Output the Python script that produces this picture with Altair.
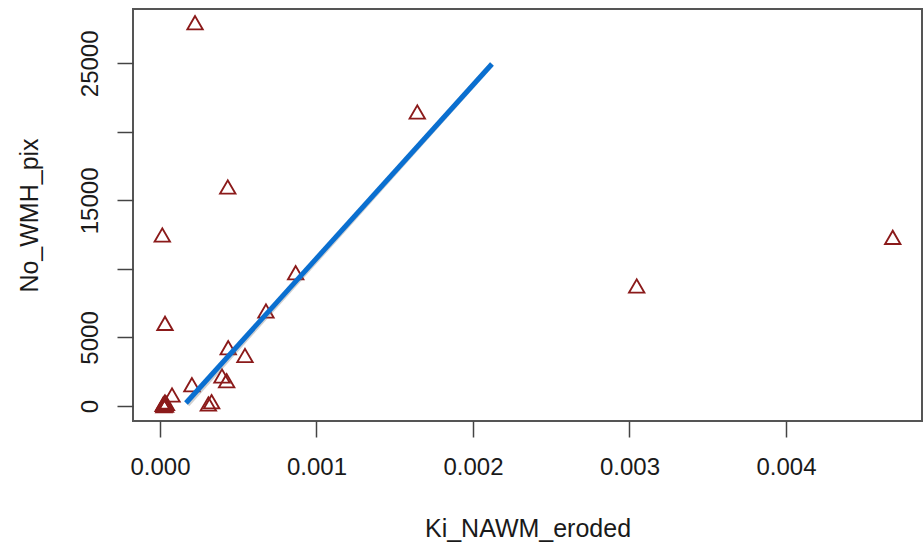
import altair as alt
import pandas as pd

# Data
ki_nawm_eroded = [0.000224, 0.001644, 0.000433, 0.0000147, 0.004682, 0.003046,
                  0.000867, 0.000677, 0.000032, 0.000436, 0.000543, 0.000396,
                  0.000426, 0.000204, 0.0000767, 0.000330, 0.000309,
                  0.000020, 0.000028, 0.000035, 0.000041, 0.000025, 0.000032]
no_wmh_pix = [27962, 21447, 15976, 12475, 12307, 8754,
              9724, 6930, 6033, 4253, 3684, 2188,
              1846, 1554, 802, 314, 146,
              120, 230, 60, 180, 20, 290]

# Hand-drawn fit line end points
line_x = [0.000166, 0.002121]
line_y = [219, 24949]

x_ticks = [0.0, 0.001, 0.002, 0.003, 0.004]
y_ticks = [0, 5000, 10000, 15000, 20000, 25000]
y_labeled = [0, 5000, 15000, 25000]

pts = pd.DataFrame({"Ki_NAWM_eroded": ki_nawm_eroded, "No_WMH_pix": no_wmh_pix})
fit = pd.DataFrame({"Ki_NAWM_eroded": [line_x[0]], "No_WMH_pix": [line_y[0]],
                    "x_end": [line_x[1]], "y_end": [line_y[1]]})

FONT = "Liberation Sans"
xs = alt.Scale(domain=[-0.0001725, 0.004869], nice=False, zero=False)
ys = alt.Scale(domain=[-1094, 28961], nice=False, zero=False)

label_expr = "indexof(" + str(y_labeled) + ", datum.value) >= 0 ? datum.label : ''"

x_axis = alt.Axis(values=x_ticks, format=".3f", title="Ki_NAWM_eroded", grid=False,
                  domain=False, tickSize=16, tickColor="#444", tickWidth=1.5,
                  labelFont=FONT, labelFontSize=24, labelColor="#1a1a1a",
                  labelPadding=18, labelBaseline="top", labelFlush=False, labelOverlap=False,
                  titleFont=FONT, titleFontSize=25, titleFontWeight="normal",
                  titleColor="#1a1a1a", titleX=394.5, titleY=115,
                  titleAlign="center", titleBaseline="alphabetic")
y_axis = alt.Axis(values=y_ticks, format="d", labelExpr=label_expr, title="No_WMH_pix",
                  grid=False, domain=False, tickSize=16, tickColor="#444", tickWidth=1.5,
                  labelFont=FONT, labelFontSize=24, labelColor="#1a1a1a",
                  labelAngle=270, labelAlign="center", labelBaseline="alphabetic",
                  labelPadding=20, labelFlush=False, labelOverlap=False,
                  titleFont=FONT, titleFontSize=25, titleFontWeight="normal",
                  titleColor="#1a1a1a", titleAngle=270, titleX=-96, titleY=206,
                  titleAlign="center", titleBaseline="alphabetic")

points = alt.Chart(pts).mark_point(
    shape="triangle-up", size=235, filled=False, color="#8b1a1a",
    strokeWidth=1.9, opacity=1
).encode(
    x=alt.X("Ki_NAWM_eroded:Q", scale=xs, axis=x_axis),
    y=alt.Y("No_WMH_pix:Q", scale=ys, axis=y_axis),
)

shadow = alt.Chart(fit).mark_rule(
    color="#777777", opacity=0.35, strokeWidth=5, strokeCap="butt", xOffset=1.5, yOffset=1.5
).encode(
    x=alt.X("Ki_NAWM_eroded:Q", scale=xs, axis=x_axis),
    y=alt.Y("No_WMH_pix:Q", scale=ys, axis=y_axis),
    x2="x_end:Q", y2="y_end:Q",
)

line = alt.Chart(fit).mark_rule(
    color="#0a6fd0", strokeWidth=5, strokeCap="butt"
).encode(
    x=alt.X("Ki_NAWM_eroded:Q", scale=xs, axis=x_axis),
    y=alt.Y("No_WMH_pix:Q", scale=ys, axis=y_axis),
    x2="x_end:Q", y2="y_end:Q",
)

chart = alt.layer(points, shadow, line).properties(
    width=789, height=412,
    autosize=alt.AutoSizeParams(type="none"),
    padding={"left": 133, "top": 9, "right": 2, "bottom": 122},
    background="white",
).configure_view(stroke="#555555", strokeWidth=2)

chart.save("out.html", embed_options={"renderer": "svg", "actions": False})
